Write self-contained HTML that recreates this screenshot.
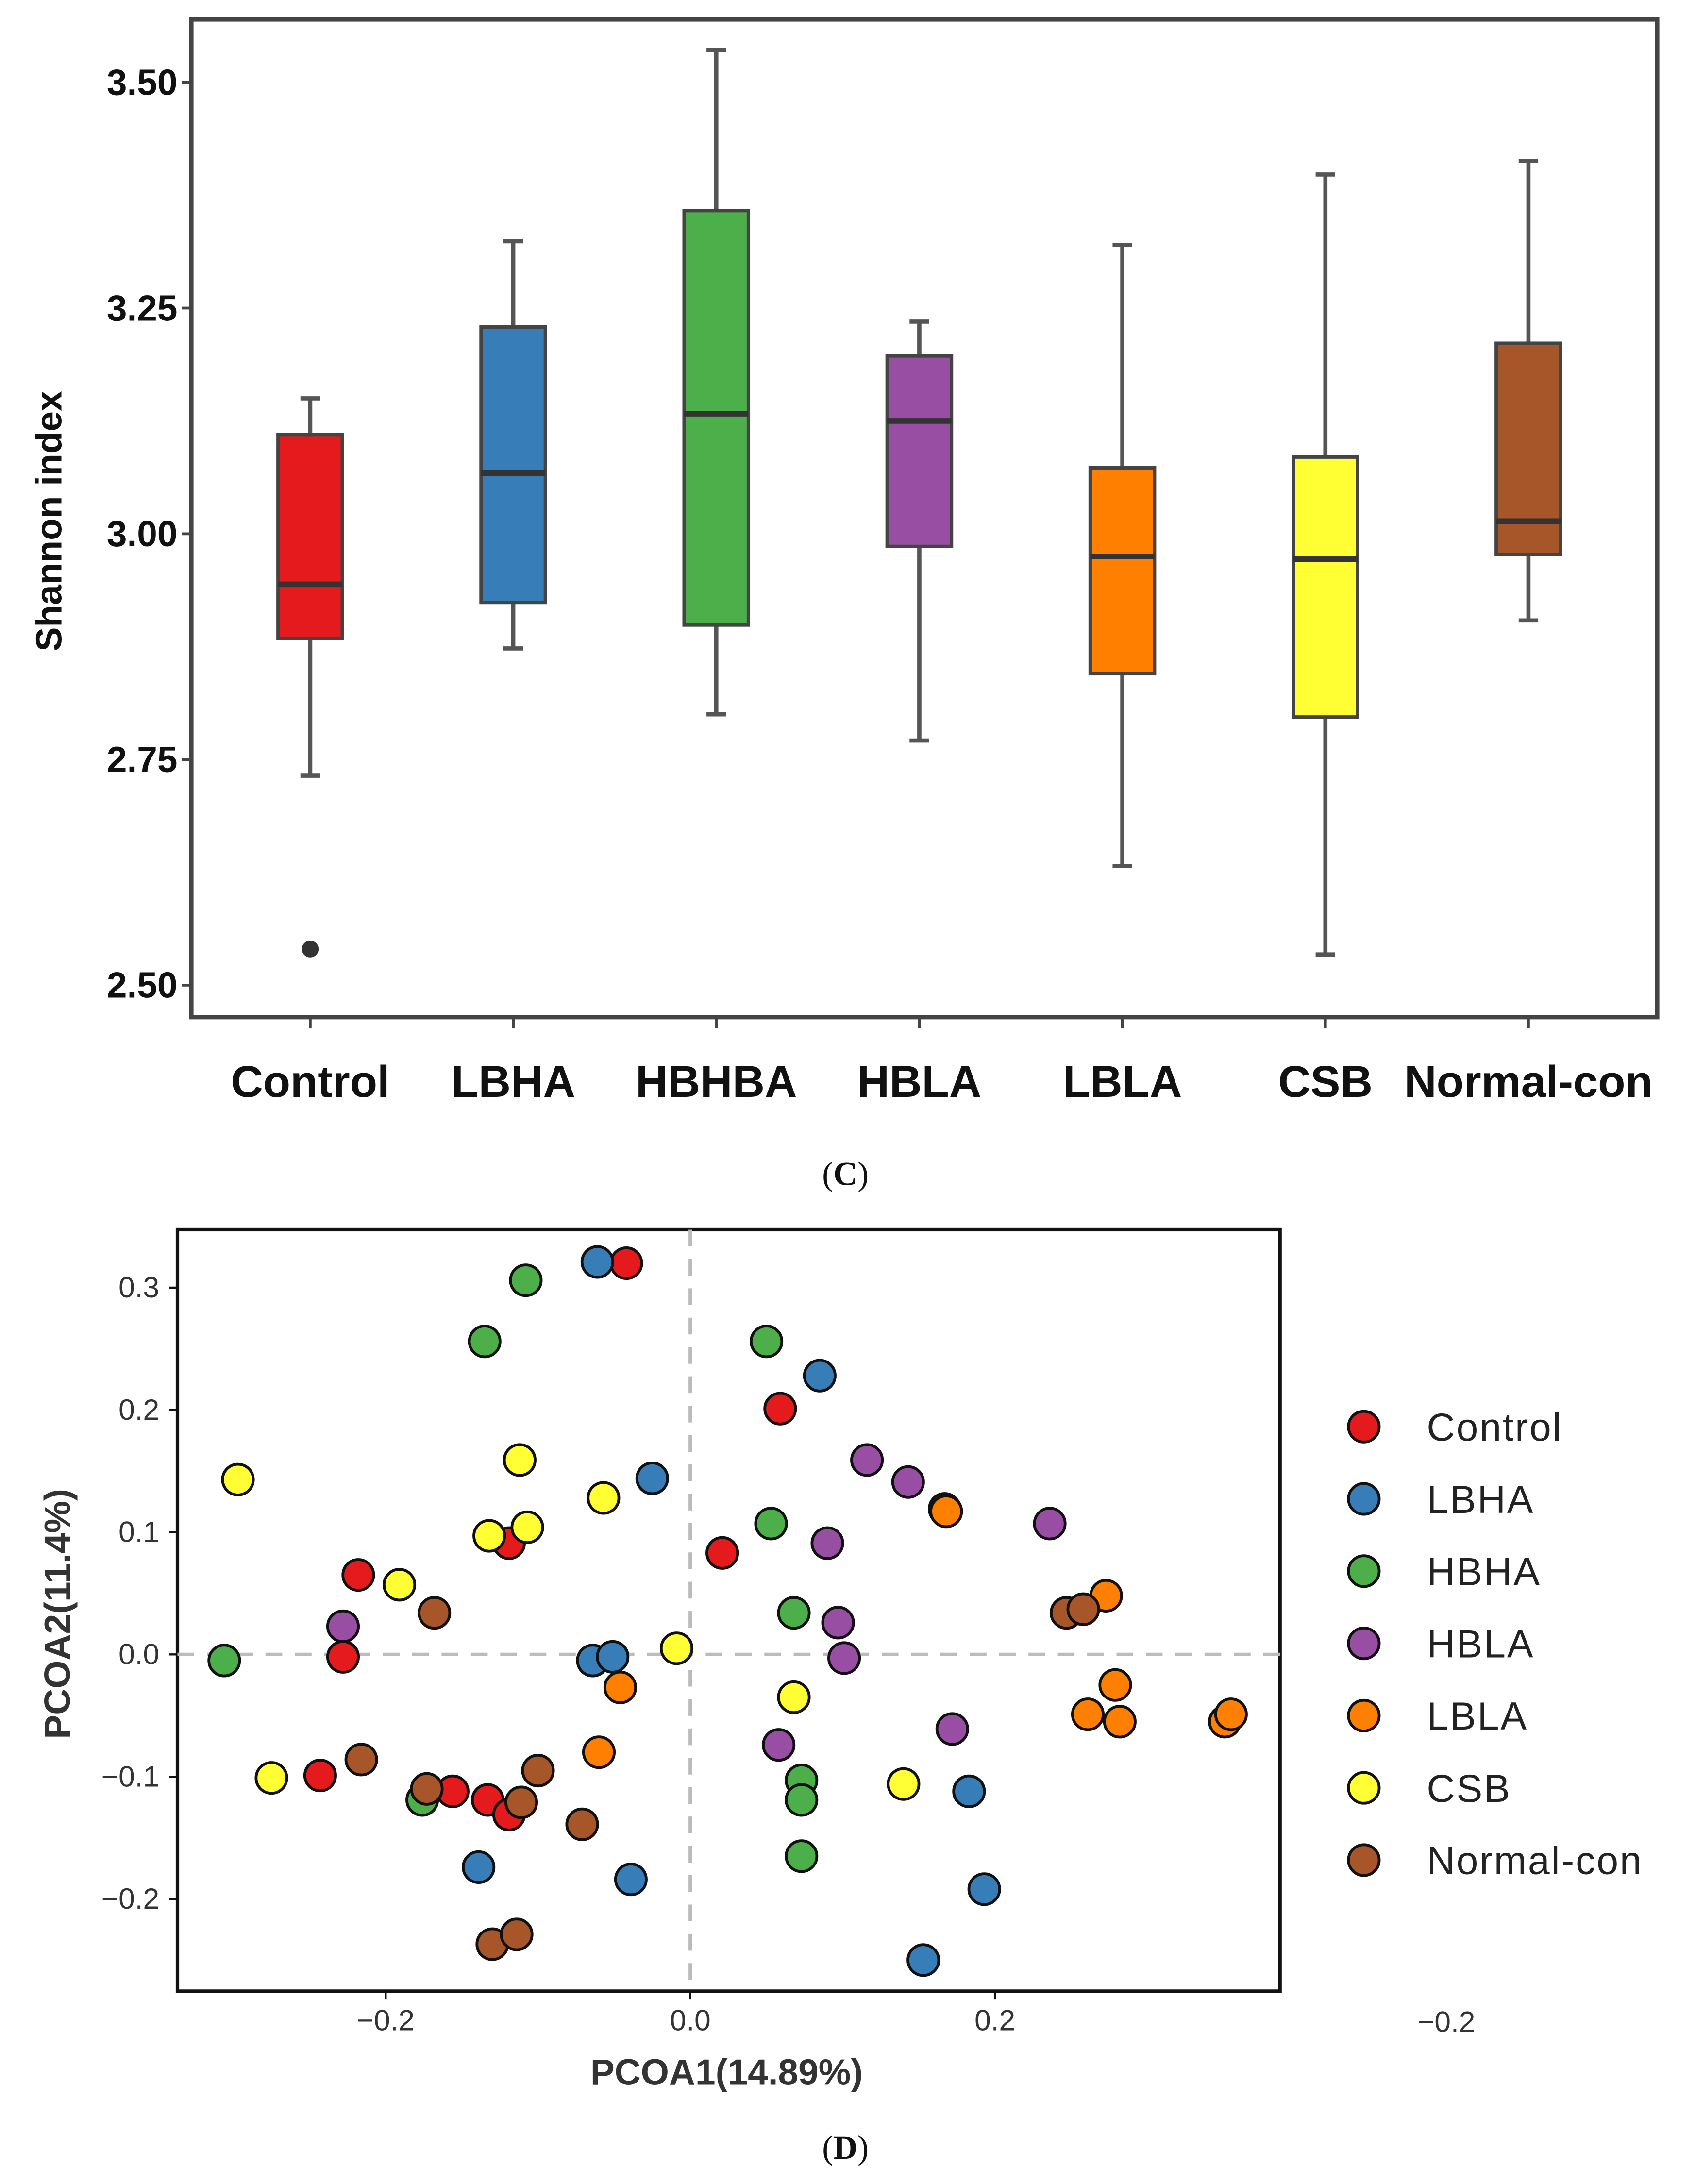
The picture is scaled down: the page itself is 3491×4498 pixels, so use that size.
<!DOCTYPE html>
<html><head><meta charset="utf-8"><style>html,body{margin:0;padding:0;background:#fff}svg{display:block}</style></head>
<body>
<svg id="fig" width="3491" height="4498" viewBox="0 0 1213 1563" preserveAspectRatio="none" xmlns="http://www.w3.org/2000/svg" font-family="Liberation Sans, sans-serif">
<rect width="1213" height="1563" fill="#fff"/>
<g id="topChart"></g>
<g id="botChart"></g>
</svg>
<script>
const NS='http://www.w3.org/2000/svg';
const groups=['Control','LBHA','HBHBA','HBLA','LBLA','CSB','Normal-con'];
const whiskHigh=[3.15,3.324,3.536,3.235,3.320,3.398,3.413];
const q3=[3.11,3.229,3.358,3.197,3.073,3.085,3.211];
const median=[2.944,3.067,3.133,3.125,2.975,2.972,3.014];
const q1=[2.884,2.924,2.899,2.986,2.845,2.797,2.977];
const whiskLow=[2.732,2.873,2.80,2.771,2.632,2.534,2.904];
const outliers=[[2.54],[],[],[],[],[],[]];
const yTicks=[2.50,2.75,3.00,3.25,3.50];
const colors=['#e41a1c','#377eb8','#4daf4a','#984ea3','#ff7f00','#ffff33','#a65628'];

const pcoaGroups=['Control','LBHA','HBHA','HBLA','LBLA','CSB','Normal-con'];
const pcX=[
[-0.042,0.059,0.021,-0.119,-0.218,-0.228,-0.243,-0.156,-0.133,-0.119],
[-0.061,0.085,-0.025,-0.064,-0.051,-0.139,-0.039,0.183,0.193,0.153],
[-0.108,-0.135,0.050,0.053,0.068,-0.306,-0.176,0.073,0.073,0.073],
[0.116,0.143,0.090,0.236,-0.228,0.097,0.101,0.058,0.172],
[0.167,0.168,0.273,0.279,0.261,0.282,-0.046,-0.060,0.351,0.355],
[-0.297,-0.112,-0.057,-0.132,-0.107,-0.191,-0.009,0.068,-0.275,0.140],
[-0.168,0.247,0.258,-0.216,-0.173,-0.100,-0.111,-0.071,-0.130,-0.114]];
const pcY=[
[0.320,0.201,0.083,0.091,0.065,-0.002,-0.099,-0.112,-0.119,-0.131],
[0.321,0.228,0.144,-0.005,-0.002,-0.174,-0.184,-0.112,-0.192,-0.250],
[0.306,0.256,0.256,0.107,0.034,-0.005,-0.119,-0.103,-0.119,-0.165],
[0.159,0.141,0.091,0.107,0.023,0.026,-0.003,-0.074,-0.061],
[0.119,0.117,0.048,-0.025,-0.049,-0.055,-0.027,-0.080,-0.055,-0.049],
[0.143,0.159,0.128,0.097,0.104,0.057,0.005,-0.035,-0.101,-0.106],
[0.034,0.034,0.037,-0.086,-0.110,-0.095,-0.121,-0.139,-0.237,-0.229]];
const xTicksP=[-0.2,0.0,0.2];
const yTicksP=[-0.2,-0.1,0.0,0.1,0.2,0.3];

function el(tag,attrs,parent,text){const e=document.createElementNS(NS,tag);for(const k in attrs)e.setAttribute(k,attrs[k]);if(text!==undefined)e.textContent=text;parent.appendChild(e);return e;}
function fmt(t){return t===0?'0.0':(t<0?'\u2212':'')+Math.abs(t).toFixed(1);}

// ---- Top boxplot
const topG=document.getElementById('topChart');
const yS=v=>705-(v-2.5)*646;
const xS=i=>222+i*145.3;
el('rect',{x:137,y:14,width:1049,height:714,fill:'#fff',stroke:'#444','stroke-width':3},topG);
yTicks.forEach(t=>{
  const ln=el('line',{x1:130,x2:137,y1:yS(t),y2:yS(t),stroke:'#444','stroke-width':2},topG);
  
  
  const tx=el('text',{x:127,y:yS(t)+9,'text-anchor':'end','font-size':26,'font-weight':'bold',fill:'#111'},topG,t.toFixed(2));
  
  
});
const yl=el('text',{x:44,y:373,'text-anchor':'middle','font-size':26,'font-weight':'bold',transform:'rotate(-90 44 373)',fill:'#111'},topG,'Shannon index');


groups.forEach((g,i)=>{
  const x=xS(i),w=46;
  const gg=el('g',{},topG);
  
  
  el('line',{x1:x,x2:x,y1:yS(whiskHigh[i]),y2:yS(whiskLow[i]),stroke:'#555','stroke-width':3},gg);
  el('line',{x1:x-7,x2:x+7,y1:yS(whiskHigh[i]),y2:yS(whiskHigh[i]),stroke:'#555','stroke-width':3},gg);
  el('line',{x1:x-7,x2:x+7,y1:yS(whiskLow[i]),y2:yS(whiskLow[i]),stroke:'#555','stroke-width':3},gg);
  el('rect',{x:x-w/2,y:yS(q3[i]),width:w,height:yS(q1[i])-yS(q3[i]),fill:colors[i],stroke:'#444','stroke-width':2.5},gg);
  el('line',{x1:x-w/2,x2:x+w/2,y1:yS(median[i]),y2:yS(median[i]),stroke:'#333','stroke-width':4},gg);
  outliers[i].forEach(o=>{
    const c=el('circle',{cx:x,cy:yS(o),r:6,fill:'#333'},gg);
    
    
  });
  el('line',{x1:x,x2:x,y1:728,y2:736,stroke:'#444','stroke-width':2},topG);
  const t=el('text',{x:x,y:785,'text-anchor':'middle','font-size':32,'font-weight':'bold',fill:'#111'},topG,g);
  
  
});
const c1=el('text',{x:605,y:848,'text-anchor':'middle','font-size':24,'font-family':'Liberation Serif, serif',fill:'#111'},topG);
el('tspan',{},c1,'(');el('tspan',{'font-weight':'bold'},c1,'C');el('tspan',{},c1,')');



// ---- Bottom PCoA
const botG=document.getElementById('botChart');
const px=v=>494+v*1090;
const py=v=>1184-v*875;
el('rect',{x:127,y:880,width:789,height:545,fill:'#fff',stroke:'#111','stroke-width':2.5},botG);
const dv=el('line',{x1:px(0),x2:px(0),y1:880,y2:1425,stroke:'#bbb','stroke-width':2.5,'stroke-dasharray':'12,9'},botG);


const dh=el('line',{x1:127,x2:916,y1:py(0),y2:py(0),stroke:'#bbb','stroke-width':2.5,'stroke-dasharray':'12,9'},botG);


xTicksP.forEach(t=>{
  el('line',{x1:px(t),x2:px(t),y1:1425,y2:1431,stroke:'#111','stroke-width':1.5},botG);
  const tx=el('text',{x:px(t),y:1453,'text-anchor':'middle','font-size':21,fill:'#333'},botG,fmt(t));
  
  
});
yTicksP.forEach(t=>{
  el('line',{x1:121,x2:127,y1:py(t),y2:py(t),stroke:'#111','stroke-width':1.5},botG);
  const tx=el('text',{x:114,y:py(t)+7,'text-anchor':'end','font-size':21,fill:'#333'},botG,fmt(t));
  
  
});
const xt=el('text',{x:520,y:1492,'text-anchor':'middle','font-size':26,'font-weight':'bold',fill:'#333'},botG,'PCOA1(14.89%)');


const yt=el('text',{x:50,y:1155,'text-anchor':'middle','font-size':26,'font-weight':'bold',fill:'#333',transform:'rotate(-90 50 1155)'},botG,'PCOA2(11.4%)');


pcoaGroups.forEach((g,i)=>{
  pcX[i].forEach((v,j)=>{
    const c=el('circle',{cx:px(v),cy:py(pcY[i][j]),r:11,fill:colors[i],stroke:'#111','stroke-width':2},botG);
    
    
  });
  const ly=1021+i*51.7;
  const lc=el('circle',{cx:976,cy:ly,r:11,fill:colors[i],stroke:'#111','stroke-width':2},botG);
  
  
  const lt=el('text',{x:1021,y:ly+10,'font-size':28,fill:'#222','letter-spacing':'1'},botG,g);
  
  
});
const st=el('text',{x:1035,y:1454,'text-anchor':'middle','font-size':21,fill:'#333'},botG,'\u22120.2');


const c2=el('text',{x:605,y:1545,'text-anchor':'middle','font-size':24,'font-family':'Liberation Serif, serif',fill:'#111'},botG);
el('tspan',{},c2,'(');el('tspan',{'font-weight':'bold'},c2,'D');el('tspan',{},c2,')');


</script>
</body></html>
